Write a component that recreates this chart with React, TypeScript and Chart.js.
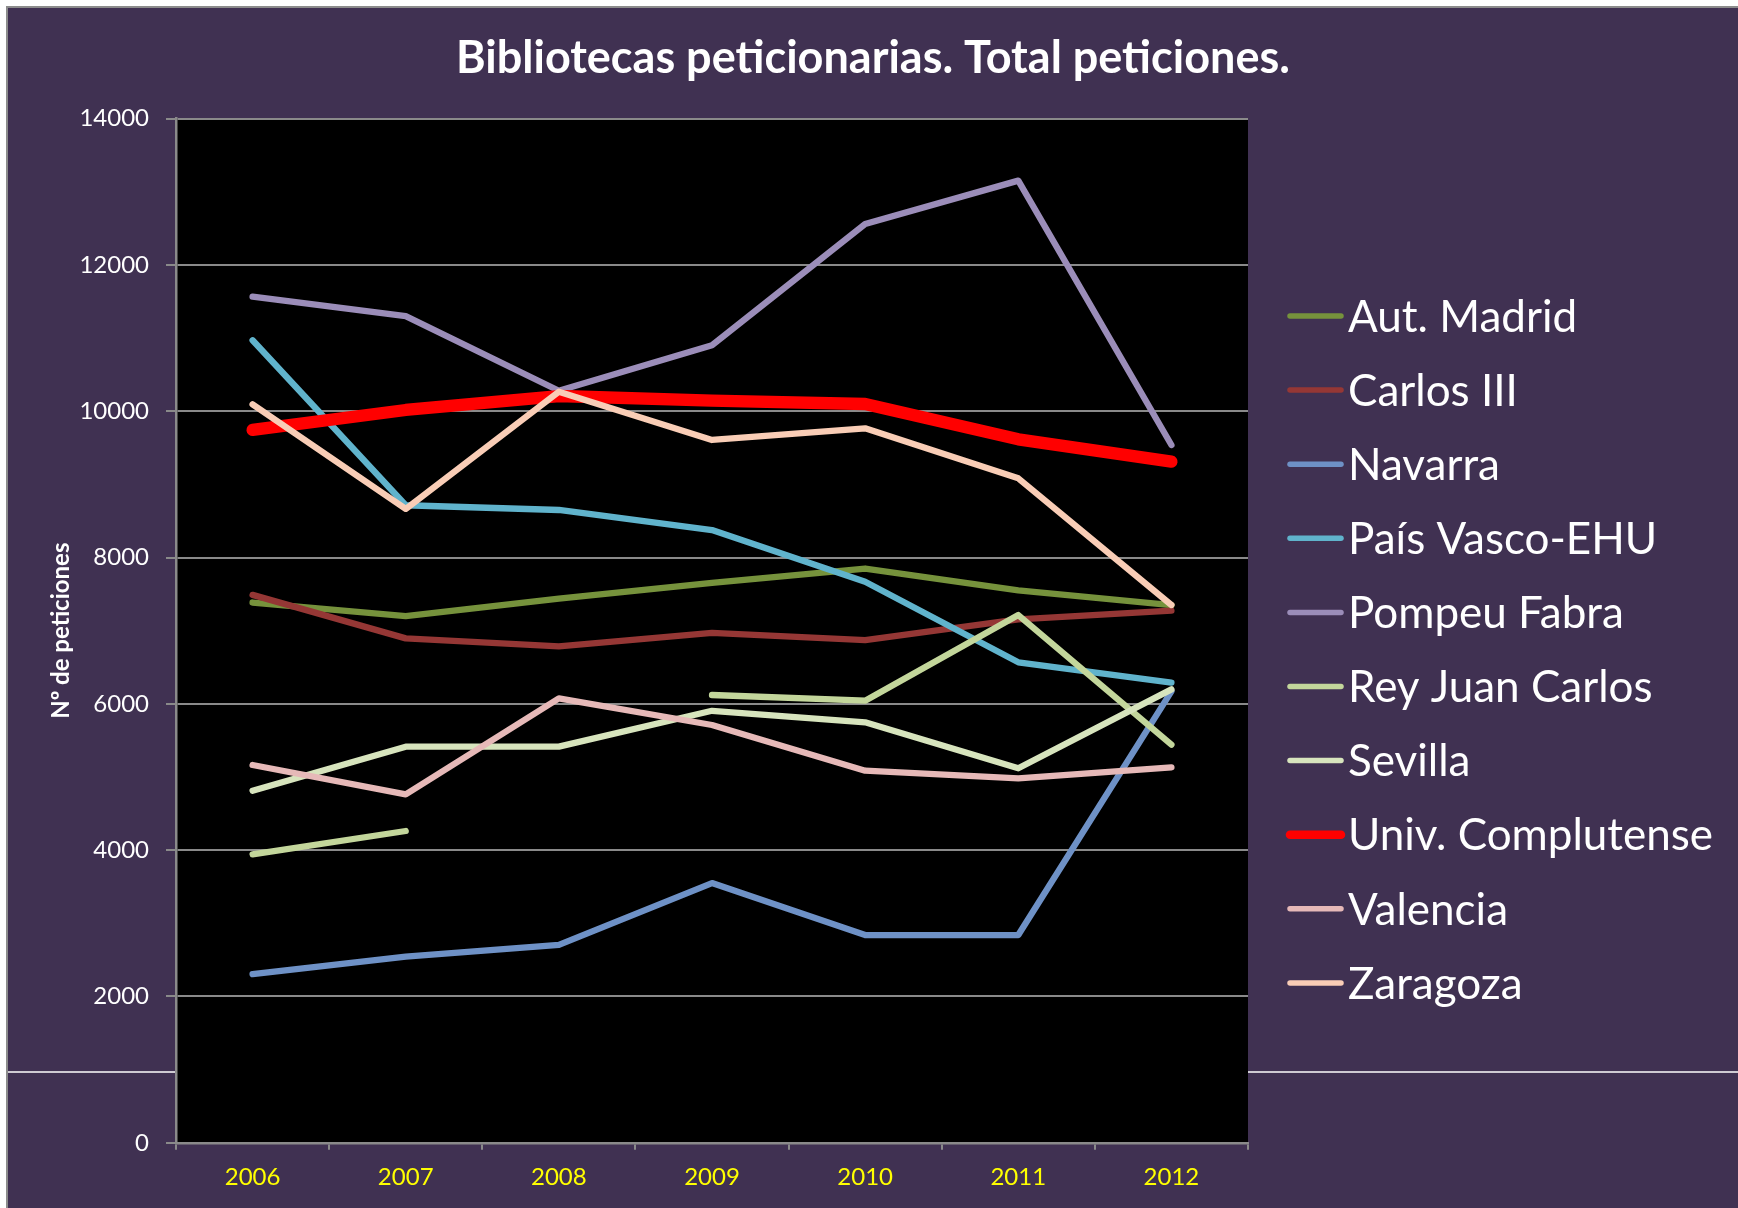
import React, { useEffect, useRef } from "react";
import { Chart, registerables } from "chart.js";

Chart.register(...registerables);

// ---------- data ----------
const YEARS = ["2006", "2007", "2008", "2009", "2010", "2011", "2012"];

const SERIES_NAMES = [
  "Aut. Madrid",
  "Carlos III",
  "Navarra",
  "País Vasco-EHU",
  "Pompeu Fabra",
  "Rey Juan Carlos",
  "Sevilla",
  "Univ. Complutense",
  "Valencia",
  "Zaragoza",
];

const AUT_MADRID = [7385, 7200, 7440, 7655, 7850, 7550, 7350];
const CARLOS_III = [7490, 6895, 6785, 6970, 6870, 7155, 7275];
const NAVARRA = [2305, 2545, 2705, 3550, 2840, 2840, 6170];
const PAIS_VASCO = [10970, 8715, 8650, 8375, 7670, 6568, 6290];
const POMPEU_FABRA = [11566, 11300, 10280, 10903, 12559, 13152, 9538];
const REY_JUAN_CARLOS = [3944, 4262, null, 6121, 6043, 7214, 5443];
const SEVILLA = [4813, 5415, 5415, 5905, 5748, 5119, 6198];
const COMPLUTENSE = [9745, 10017, 10208, 10144, 10099, 9616, 9311];
const VALENCIA = [5164, 4763, 6076, 5711, 5087, 4982, 5133];
const ZARAGOZA = [10095, 8665, 10267, 9607, 9766, 9083, 7351];

const SERIES_VALUES = [
  AUT_MADRID,
  CARLOS_III,
  NAVARRA,
  PAIS_VASCO,
  POMPEU_FABRA,
  REY_JUAN_CARLOS,
  SEVILLA,
  COMPLUTENSE,
  VALENCIA,
  ZARAGOZA,
];

const SERIES_COLORS = [
  "#76923C",
  "#953735",
  "#6E91C6",
  "#60B3CC",
  "#9B8DB9",
  "#C3D69B",
  "#D7E4BD",
  "#FF0000",
  "#E6B9B8",
  "#F9CDB6",
];

const SERIES_WIDTHS = [6.3, 6.3, 6.3, 6.3, 6.3, 6.3, 6.3, 12.3, 6.3, 6.3];

const Y_MIN = 0;
const Y_MAX = 14000;
const Y_STEP = 2000;

const TITLE = "Bibliotecas peticionarias. Total peticiones.";
const Y_TITLE = "Nº de peticiones";

// ---------- layout / style ----------
const W = 1730;
const H = 1200;
const PURPLE = "#403152";
const AXIS_GRAY = "#8a8a8a";
const FONT = "Lato, 'Open Sans', sans-serif";

const LEGEND_X = 1282;
const LEGEND_SWATCH = 51;
const LEGEND_TEXT_X = 1340;
const LEGEND_TOP = 308;
const LEGEND_STEP = 74.1;
const LEGEND_FONT_SIZE = 44;
const STRAY_LINE_Y = 1064;

export default function App() {
  const ref = useRef<HTMLCanvasElement | null>(null);

  useEffect(() => {
    const canvas = ref.current;
    if (!canvas) return;

    const bgPlugin = {
      id: "bgPlugin",
      beforeDraw(chart: any) {
        const { ctx, chartArea } = chart;
        ctx.save();
        ctx.fillStyle = PURPLE;
        ctx.fillRect(0, 0, chart.width, chart.height);
        ctx.strokeStyle = "#ffffff";
        ctx.lineWidth = 1.5;
        ctx.beginPath();
        ctx.moveTo(0, STRAY_LINE_Y);
        ctx.lineTo(chart.width, STRAY_LINE_Y);
        ctx.stroke();
        ctx.fillStyle = "#000000";
        ctx.fillRect(
          chartArea.left,
          chartArea.top,
          chartArea.right - chartArea.left,
          chartArea.bottom - chartArea.top
        );
        ctx.restore();
      },
    };

    const legendPlugin = {
      id: "sideLegend",
      afterDraw(chart: any) {
        const ctx = chart.ctx;
        ctx.save();
        chart.data.datasets.forEach((ds: any, i: number) => {
          const y = LEGEND_TOP + i * LEGEND_STEP;
          ctx.strokeStyle = ds.borderColor;
          ctx.lineWidth = ds.borderWidth > 8 ? 8.5 : 5.5;
          ctx.lineCap = "round";
          ctx.beginPath();
          ctx.moveTo(LEGEND_X, y);
          ctx.lineTo(LEGEND_X + LEGEND_SWATCH, y);
          ctx.stroke();
          ctx.fillStyle = "#ffffff";
          ctx.font = `${LEGEND_FONT_SIZE}px ${FONT}`;
          ctx.textAlign = "left";
          ctx.textBaseline = "alphabetic";
          ctx.fillText(ds.label, LEGEND_TEXT_X, y + LEGEND_FONT_SIZE * 0.358);
        });
        ctx.restore();
      },
    };

    const datasets = SERIES_NAMES.map((name, i) => ({
      label: name,
      data: SERIES_VALUES[i],
      borderColor: SERIES_COLORS[i],
      backgroundColor: SERIES_COLORS[i],
      borderWidth: SERIES_WIDTHS[i],
      borderCapStyle: "round" as const,
      borderJoinStyle: "round" as const,
      pointRadius: 0,
      pointHoverRadius: 0,
      tension: 0,
      spanGaps: false,
      fill: false,
      yAxisID: "y",
      order: SERIES_NAMES.length - 1 - i,
    }));

    const chart = new Chart(canvas, {
      type: "line",
      data: { labels: YEARS, datasets },
      plugins: [bgPlugin, legendPlugin],
      options: {
        responsive: false,
        animation: false,
        devicePixelRatio: 1,
        layout: { padding: 0 },
        plugins: {
          legend: { display: false },
          tooltip: { enabled: false },
          title: {
            display: true,
            text: TITLE,
            color: "#ffffff",
            font: { family: FONT, size: 45, weight: "bold", lineHeight: 1.2 },
            padding: { top: 23, bottom: 33.6 },
          },
        },
        scales: {
          x: {
            type: "category",
            offset: true,
            grid: {
              offset: true,
              drawOnChartArea: false,
              drawTicks: true,
              tickLength: 7,
              color: AXIS_GRAY,
              lineWidth: 2,
            },
            border: { display: true, color: AXIS_GRAY, width: 2.5 },
            ticks: {
              color: "#FFFF00",
              font: { family: FONT, size: 24, lineHeight: 1.2 },
              padding: 12.8,
              maxRotation: 0,
              autoSkip: false,
            },
            afterFit: (scale: any) => {
              scale.height = 65.2;
            },
          },
          y: {
            type: "linear",
            position: "left",
            min: Y_MIN,
            max: Y_MAX,
            ticks: {
              stepSize: Y_STEP,
              color: "#ffffff",
              font: { family: FONT, size: 24 },
              padding: 17,
              callback: (v: any) => String(v),
            },
            grid: {
              color: AXIS_GRAY,
              lineWidth: 2,
              drawTicks: true,
              tickLength: 10,
            },
            border: { display: true, color: AXIS_GRAY, width: 2.5 },
            title: {
              display: true,
              text: Y_TITLE,
              color: "#ffffff",
              font: { family: FONT, size: 24, weight: "bold", lineHeight: 1.2 },
              padding: { top: 39.3, bottom: 0 },
            },
            afterFit: (scale: any) => {
              scale.width = 168;
            },
          },
          legendSpace: {
            type: "linear",
            position: "right",
            display: true,
            grid: { display: false, drawTicks: false },
            border: { display: false },
            ticks: { display: false },
            afterFit: (scale: any) => {
              scale.width = 490;
            },
          },
        },
      },
    });

    return () => {
      chart.destroy();
    };
  }, []);

  return (
    <div
      style={{
        position: "absolute",
        left: 6,
        top: 6,
        borderTop: "2px solid #8c8c8c",
        borderLeft: "2px solid #8c8c8c",
        width: W,
        height: H,
      }}
    >
      <canvas ref={ref} width={W} height={H} style={{ display: "block", width: W, height: H }} />
    </div>
  );
}
